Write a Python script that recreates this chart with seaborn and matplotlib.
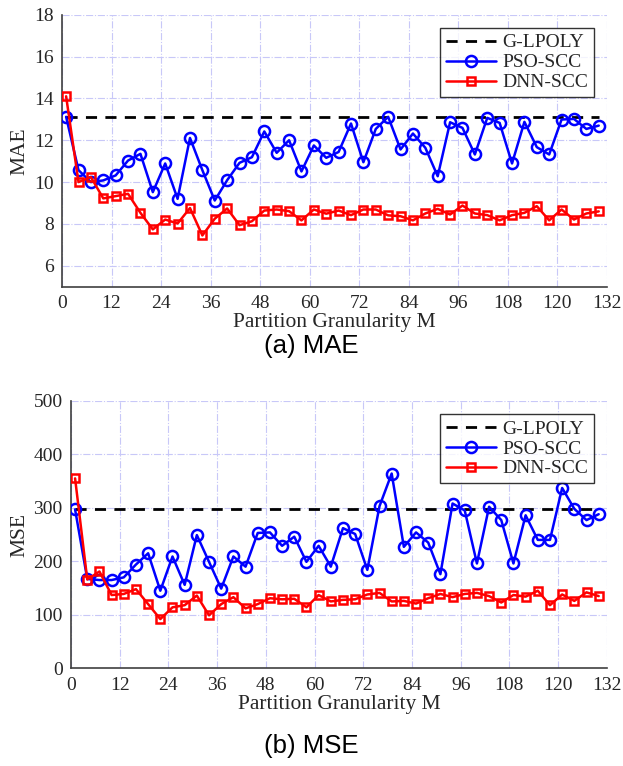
import numpy as np
import pandas as pd
import matplotlib
matplotlib.use("Agg")
import matplotlib.pyplot as plt
import seaborn as sns

# Données
m_values = list(range(1, 131, 3))

mae_glpoly = 13.1
mae_pso = [13.12, 10.57, 10.0, 10.08, 10.32, 11.03, 11.35, 9.52, 10.89, 9.2,
           12.11, 10.57, 9.12, 10.09, 10.92, 11.19, 12.42, 11.40, 12.0, 10.51,
           11.75, 11.16, 11.44, 12.8, 10.95, 12.54, 13.12, 11.56, 12.32, 11.64,
           10.28, 12.86, 12.59, 11.32, 13.07, 12.83, 10.89, 12.88, 11.67, 11.32,
           12.99, 13.02, 12.54, 12.70]
mae_dnn = [14.10, 10.0, 10.24, 9.22, 9.33, 9.44, 8.53, 7.74, 8.21, 8.02,
           8.76, 7.45, 8.25, 8.74, 7.94, 8.13, 8.64, 8.69, 8.61, 8.17,
           8.69, 8.49, 8.64, 8.42, 8.69, 8.69, 8.41, 8.37, 8.17, 8.50,
           8.72, 8.45, 8.88, 8.50, 8.42, 8.17, 8.42, 8.53, 8.85, 8.17,
           8.69, 8.21, 8.50, 8.60]

mse_glpoly = 297
mse_pso = [297, 167, 165, 165, 170, 194, 215, 145, 209, 156,
           249, 199, 149, 209, 190, 253, 254, 229, 246, 199,
           229, 190, 262, 251, 184, 303, 364, 227, 254, 235,
           176, 308, 295, 196, 302, 277, 196, 286, 240, 240,
           337, 298, 277, 288]
mse_dnn = [355, 166, 181, 137, 139, 148, 120, 92, 114, 118,
           136, 99, 120, 133, 112, 120, 131, 129, 130, 114,
           137, 125, 128, 129, 138, 141, 125, 126, 121, 131,
           139, 133, 139, 141, 135, 123, 137, 134, 145, 118,
           138, 126, 142, 135]

x_ticks = list(range(0, 133, 12))

sns.set_style("white")
plt.rcParams['font.family'] = ['Liberation Serif', 'DejaVu Serif']

fig = plt.figure(figsize=(6.23, 7.66), dpi=100)
ax1 = fig.add_axes([0.0995, 0.6257, 0.8748, 0.3551])
ax2 = fig.add_axes([0.1140, 0.1275, 0.8600, 0.3493])

grid_color = '#c8c8f8'
text_color = '#262626'


def draw_panel(ax, glpoly, pso, dnn, ylim, yticks, ylabel, leg_anchor):
    df = pd.DataFrame({'M': m_values, 'PSO': pso, 'DNN': dnn})
    ax.plot([m_values[0], m_values[-1]], [glpoly, glpoly], color='black',
            linestyle=(0, (4, 3)), linewidth=2, label='G-LPOLY', zorder=3)
    sns.lineplot(data=df, x='M', y='PSO', ax=ax, color='#0000ff', linewidth=1.8,
                 marker='o', markersize=8, markerfacecolor='none',
                 markeredgecolor='#0000ff', markeredgewidth=1.8,
                 label='PSO-SCC', zorder=4)
    sns.lineplot(data=df, x='M', y='DNN', ax=ax, color='#ff0000', linewidth=1.8,
                 marker='s', markersize=5.5, markerfacecolor='none',
                 markeredgecolor='#ff0000', markeredgewidth=1.8,
                 label='DNN-SCC', zorder=5)

    ax.set_xlim(0, 132)
    ax.set_ylim(*ylim)
    ax.set_xticks(x_ticks)
    ax.set_yticks(yticks)
    ax.grid(True, color=grid_color, linestyle='-.', linewidth=0.8)
    ax.set_axisbelow(True)
    for s in ['top', 'right']:
        ax.spines[s].set_visible(False)
    for s in ['left', 'bottom']:
        ax.spines[s].set_color('#404040')
        ax.spines[s].set_linewidth(1.2)
    ax.tick_params(direction='in', length=4, width=1, colors='#404040',
                   labelcolor=text_color, labelsize=14, pad=6)
    ax.set_xlabel('Partition Granularity M', fontsize=15.5, color=text_color, labelpad=1)
    ax.set_ylabel(ylabel, fontsize=15.5, color=text_color, labelpad=3)

    leg = ax.legend(loc='upper right', bbox_to_anchor=leg_anchor,
                    borderaxespad=0, fontsize=14, frameon=True, fancybox=False,
                    handlelength=2.6, borderpad=0.3, labelspacing=0.12,
                    handletextpad=0.3)
    leg.get_frame().set_edgecolor('black')
    leg.get_frame().set_linewidth(1.0)
    for t in leg.get_texts():
        t.set_color(text_color)


draw_panel(ax1, mae_glpoly, mae_pso, mae_dnn, (5, 18), range(6, 19, 2), 'MAE',
           (0.976, 0.951))
draw_panel(ax2, mse_glpoly, mse_pso, mse_dnn, (0, 500), range(0, 501, 100), 'MSE',
           (0.976, 0.950))

fig.text(0.5, 1 - 346 / 766, '(a) MAE', ha='center', va='center',
         fontsize=18.5, family='Liberation Sans', color='black')
fig.text(0.5, 1 - 746 / 766, '(b) MSE', ha='center', va='center',
         fontsize=18.5, family='Liberation Sans', color='black')

plt.savefig('out.png', dpi=100)
